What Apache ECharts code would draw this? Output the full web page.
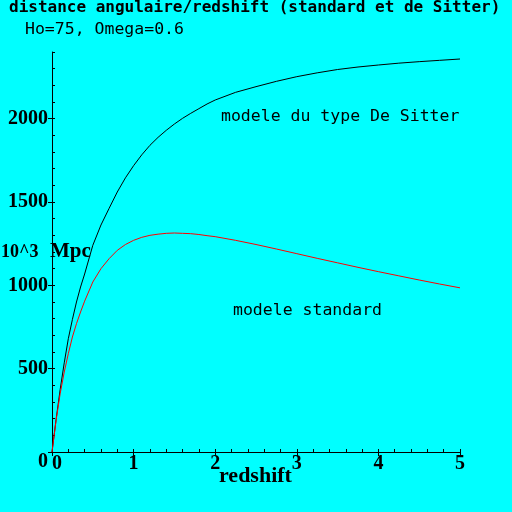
<!DOCTYPE html>
<html>
<head>
<meta charset="utf-8">
<script src="https://cdn.jsdelivr.net/npm/echarts@6/dist/echarts.min.js"></script>
<style>
  html, body { margin: 0; padding: 0; background: #00ffff; }
  #main { width: 512px; height: 512px; }
</style>
</head>
<body>
<div id="main"></div>
<script>
// redshift samples and read-off distances (10^3 Mpc)
var redshift = [0, 0.05, 0.1, 0.15, 0.2, 0.25, 0.3, 0.35, 0.4, 0.5, 0.6, 0.7, 0.8, 0.9, 1.0,
                1.1, 1.2, 1.3, 1.4, 1.5, 1.6, 1.7, 1.8, 1.9, 2.0,
                2.25, 2.5, 2.75, 3.0, 3.25, 3.5, 3.75, 4.0, 4.25, 4.5, 4.75, 5.0];
var deSitter = [0, 195, 375, 535, 680, 795, 900, 990, 1068, 1240, 1362, 1462, 1560, 1645, 1718,
                1783, 1840, 1888, 1930, 1968, 2002, 2032, 2060, 2088, 2112,
                2158, 2192, 2224, 2252, 2275, 2295, 2310, 2322, 2333, 2342, 2350, 2358];
var standard = [0, 190, 350, 480, 590, 690, 770, 840, 905, 1020, 1100, 1160, 1210, 1245, 1270,
                1288, 1300, 1307, 1312, 1314, 1312, 1310, 1305, 1298, 1292,
                1270, 1245, 1218, 1190, 1162, 1135, 1108, 1082, 1057, 1032, 1008, 985];

var titleText = 'distance angulaire/redshift (standard et de Sitter)';
var subText = 'Ho=75, Omega=0.6';

function pairs(xs, ys) {
    return xs.map(function (x, i) { return [x, ys[i]]; });
}

var chart = echarts.init(document.getElementById('main'));

var serifLabel = {
    color: '#000',
    fontFamily: 'Liberation Serif',
    fontWeight: 'bold',
    fontSize: 20,
    formatter: function (v) { return String(v); }
};

var option = {
    backgroundColor: '#00ffff',
    animation: false,
    grid: { left: 52, right: 52, top: 52, bottom: 60, outerBoundsMode: 'none' },
    xAxis: [{
        type: 'value', min: 0, max: 5, interval: 1,
        axisLine: { lineStyle: { color: '#000', width: 1 } },
        axisTick: { show: true, length: 4, lineStyle: { color: '#000' } },
        splitLine: { show: false },
        axisLabel: Object.assign({ margin: 2, alignMinLabel: 'left' }, serifLabel)
    }, {
        type: 'value', min: 0, max: 5, interval: 0.2, position: 'bottom',
        axisLine: { show: false },
        axisTick: { show: true, inside: true, length: 3, lineStyle: { color: '#000' } },
        splitLine: { show: false },
        axisLabel: { show: false }
    }],
    yAxis: [{
        type: 'value', min: 0, max: 2400, interval: 500,
        axisLine: { show: true, lineStyle: { color: '#000', width: 1 } },
        axisTick: { show: true, length: 4, lineStyle: { color: '#000' } },
        splitLine: { show: false },
        axisLabel: Object.assign({ margin: 4, showMaxLabel: false, verticalAlignMinLabel: 'top' }, serifLabel)
    }, {
        type: 'value', min: 0, max: 2400, interval: 100, position: 'left',
        axisLine: { show: false },
        axisTick: { show: true, inside: true, length: 3, lineStyle: { color: '#000' } },
        splitLine: { show: false },
        axisLabel: { show: false }
    }],
    series: [{
        type: 'line',
        data: pairs(redshift, deSitter),
        showSymbol: false,
        lineStyle: { color: '#000', width: 1 }
    }, {
        type: 'line',
        data: pairs(redshift, standard),
        showSymbol: false,
        lineStyle: { color: '#ff0000', width: 1 }
    }],
    graphic: [
        { type: 'text', left: 9, top: 0, style: { text: titleText, fill: '#000',
            font: 'bold 16px "DejaVu Sans Mono"' } },
        { type: 'text', left: 25, top: 21, style: { text: subText, fill: '#000',
            font: '16.5px "DejaVu Sans Mono"' } },
        { type: 'text', left: 221, top: 108, style: { text: 'modele du type De Sitter', fill: '#000',
            font: '16.5px "DejaVu Sans Mono"' } },
        { type: 'text', left: 233, top: 302, style: { text: 'modele standard', fill: '#000',
            font: '16.5px "DejaVu Sans Mono"' } },
        { type: 'text', left: 219, top: 465, style: { text: 'redshift', fill: '#000',
            font: 'bold 22px "Liberation Serif"' } },
        { type: 'text', left: 1, top: 243, style: { text: '10^3', fill: '#000',
            font: 'bold 18px "Liberation Serif"' } },
        { type: 'text', left: 50, top: 241, style: { text: 'Mpc', fill: '#000',
            font: 'bold 21px "Liberation Serif"' } }
    ]
};

chart.setOption(option);
</script>
</body>
</html>
